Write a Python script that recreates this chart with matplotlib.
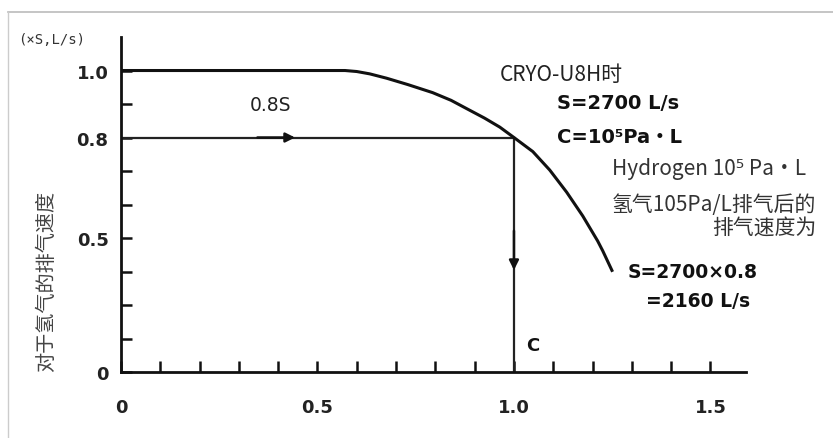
import numpy as np
import matplotlib
matplotlib.use("Agg")
import matplotlib.pyplot as plt
from matplotlib.lines import Line2D

plt.rcParams["font.family"] = ["Noto Sans CJK SC", "DejaVu Sans"]

# pumping-speed ratio vs. gas load (schematic)
curve_x = [0.0, 0.57, 0.60, 0.633, 0.676, 0.73, 0.793, 0.84, 0.880, 0.925,
           0.964, 1.0, 1.048, 1.091, 1.134, 1.175, 1.213, 1.226, 1.251]
curve_y = [1.0, 1.0, 0.997, 0.99, 0.977, 0.958, 0.934, 0.911, 0.886, 0.858,
           0.831, 0.80, 0.758, 0.703, 0.637, 0.566, 0.489, 0.452, 0.374]

read_x = 1.0      # C = 10^5 Pa·L
read_y = 0.8      # 0.8 S

x_ticks = [i / 10 for i in range(16)]
x_tick_labels = {0.0: "0", 0.5: "0.5", 1.0: "1.0", 1.5: "1.5"}
y_ticks = [0.0, 0.5, 0.8, 1.0]
y_tick_labels = ["0", "0.5", "0.8", "1.0"]

# the printed y axis is not linear: labelled values sit on tick 0, 4, 7 and 9
scale_vals = [0.0, 0.5, 0.8, 1.0, 1.1]
scale_pos = [0, 4, 7, 9, 10]


def fwd(v):
    return np.interp(v, scale_vals, scale_pos)


def inv(p):
    return np.interp(p, scale_pos, scale_vals)


fig = plt.figure(figsize=(8.33, 4.39), dpi=100)
ax = fig.add_axes([0.1453, 0.1503, 0.750, 0.7631])
ax.set_yscale("function", functions=(fwd, inv))
ax.set_xlim(0, 1.59)
ax.set_ylim(0, 1.1)

ax.plot(curve_x, curve_y, color="#111111", lw=2.2, solid_capstyle="butt",
        solid_joinstyle="round", zorder=3)
ax.plot([0, read_x], [read_y, read_y], color="#222222", lw=1.6, zorder=2)
ax.plot([read_x, read_x], [0, read_y], color="#222222", lw=1.6, zorder=2)

arrow = dict(arrowstyle="-|>", color="#111111", lw=1.8, mutation_scale=14)
ax.annotate("", xy=(0.45, read_y), xytext=(0.34, read_y), arrowprops=arrow)
ax.annotate("", xy=(read_x, 0.37), xytext=(read_x, 0.53), arrowprops=arrow)

for s in ["top", "right"]:
    ax.spines[s].set_visible(False)
for s in ["left", "bottom"]:
    ax.spines[s].set_linewidth(2.0)
    ax.spines[s].set_color("#111111")

ax.set_xticks(x_ticks)
ax.set_xticklabels([x_tick_labels.get(round(t, 1), "") for t in x_ticks])
ax.set_yticks(y_ticks)
ax.set_yticklabels(y_tick_labels)
ax.set_yticks(inv([1, 2, 3, 5, 6, 8]), minor=True)
ax.yaxis.set_minor_formatter(plt.NullFormatter())
ax.xaxis.set_minor_locator(plt.NullLocator())

ax.tick_params(axis="x", direction="in", length=8, width=1.8, pad=19,
               labelsize=13, colors="#111111")
ax.tick_params(axis="y", which="both", direction="in", length=8, width=1.8,
               pad=9, labelsize=13, colors="#111111")
for lab in ax.get_yticklabels() + ax.get_xticklabels():
    lab.set_fontfamily("DejaVu Sans")
    lab.set_fontweight("bold")
    lab.set_color("#222222")

fig.text(0.056, 0.358, "对于氢气的排气速度", rotation=90, ha="center", va="center",
         fontsize=14.5, color="#444444")
fig.text(0.022, 0.908, "(×S,L/s)", fontsize=10, color="#333333", va="center",
         family="DejaVu Sans Mono")

bold = dict(family=["DejaVu Sans", "Noto Sans CJK SC"], fontweight="bold",
            color="#111111", va="center")
ax.text(0.38, 0.90, "0.8S", ha="center", fontsize=13.5, family="DejaVu Sans",
        color="#222222", va="center")
ax.text(0.964, 0.99, "CRYO-U8H时", fontsize=15, color="#222222", va="center")
ax.text(1.11, 0.906, "S=2700 L/s", fontsize=14, **bold)
ax.text(1.11, 0.804, "C=10⁵Pa・L", fontsize=14, **bold)
ax.text(1.25, 0.71, "Hydrogen 10⁵ Pa・L", fontsize=15, color="#333333", va="center")
ax.text(1.25, 0.567, "氢气105Pa/L排气后的\n排气速度为", fontsize=15,
        color="#333333", va="center", ha="left", multialignment="right",
        linespacing=1.05,
        bbox=dict(facecolor="white", edgecolor="none", pad=4), zorder=5)
ax.text(1.29, 0.375, "S=2700×0.8", fontsize=13.5, **bold)
ax.text(1.335, 0.265, "=2160 L/s", fontsize=13.5, **bold)
ax.text(1.03, 0.10, "C", fontsize=13, **bold)

# thin frame from the screenshot
fig.add_artist(Line2D([0.0096, 1.0], [0.970, 0.970], color="#bbbbbb", lw=1.2))
fig.add_artist(Line2D([0.0096, 0.0096], [0.0, 0.970], color="#cccccc", lw=1.0))

fig.savefig("out.png", dpi=100)
